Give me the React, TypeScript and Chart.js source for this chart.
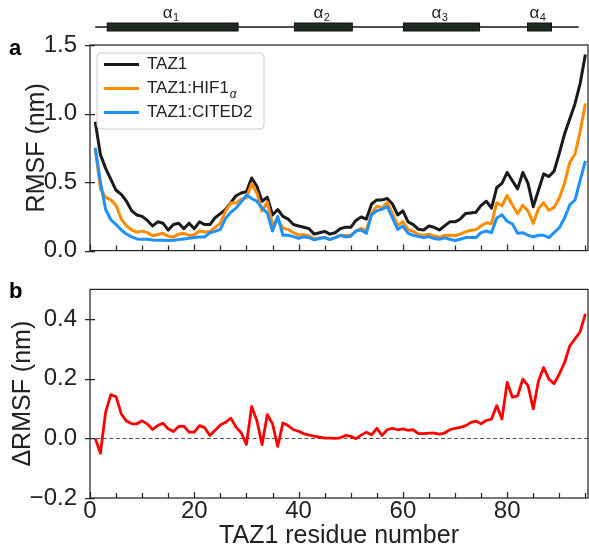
import React, { useEffect, useRef } from 'react';
import { Chart, registerables } from 'chart.js';
Chart.register(...registerables);

const FONT = '"Liberation Sans", Arial, Helvetica, sans-serif';

const residues = [
  1, 2, 3, 4, 5, 6, 7, 8, 9, 10, 11, 12, 13, 14, 15, 16, 17, 18, 19, 20,
  21, 22, 23, 24, 25, 26, 27, 28, 29, 30, 31, 32, 33, 34, 35, 36, 37, 38, 39, 40,
  41, 42, 43, 44, 45, 46, 47, 48, 49, 50, 51, 52, 53, 54, 55, 56, 57, 58, 59, 60,
  61, 62, 63, 64, 65, 66, 67, 68, 69, 70, 71, 72, 73, 74, 75, 76, 77, 78, 79, 80,
  81, 82, 83, 84, 85, 86, 87, 88, 89, 90, 91, 92, 93, 94, 95,
];

const rmsfTAZ1 = [
  0.94, 0.70, 0.60, 0.52, 0.44, 0.41, 0.36, 0.29, 0.26, 0.25,
  0.22, 0.18, 0.21, 0.20, 0.15, 0.19, 0.20, 0.16, 0.20, 0.16,
  0.21, 0.19, 0.19, 0.24, 0.27, 0.30, 0.35, 0.40, 0.42, 0.43,
  0.53, 0.47, 0.36, 0.39, 0.26, 0.30, 0.25, 0.23, 0.19, 0.18,
  0.17, 0.16, 0.12, 0.13, 0.14, 0.12, 0.13, 0.16, 0.17, 0.17,
  0.22, 0.245, 0.23, 0.34, 0.37, 0.37, 0.38, 0.34, 0.26, 0.29,
  0.21, 0.19, 0.155, 0.15, 0.18, 0.17, 0.15, 0.18, 0.21, 0.21,
  0.23, 0.27, 0.275, 0.28, 0.33, 0.36, 0.31, 0.46, 0.49, 0.57,
  0.51, 0.45, 0.57, 0.49, 0.32, 0.44, 0.56, 0.54, 0.58, 0.71,
  0.85, 0.96, 1.07, 1.22, 1.43,
];

const rmsfHIF1a = [
  0.75, 0.45, 0.39, 0.37, 0.33, 0.23, 0.18, 0.15, 0.134, 0.142,
  0.131, 0.108, 0.118, 0.126, 0.105, 0.098, 0.12, 0.126, 0.111, 0.116,
  0.143, 0.136, 0.14, 0.167, 0.20, 0.289, 0.348, 0.348, 0.374, 0.385,
  0.487, 0.42, 0.289, 0.355, 0.192, 0.223, 0.164, 0.155, 0.131, 0.114,
  0.116, 0.106, 0.086, 0.092, 0.096, 0.081, 0.095, 0.112, 0.11, 0.112,
  0.142, 0.161, 0.147, 0.274, 0.324, 0.312, 0.35, 0.272, 0.184, 0.211,
  0.153, 0.141, 0.118, 0.111, 0.12, 0.106, 0.097, 0.111, 0.112, 0.108,
  0.12, 0.137, 0.148, 0.153, 0.18, 0.203, 0.196, 0.348, 0.327, 0.402,
  0.333, 0.269, 0.33, 0.289, 0.199, 0.305, 0.35, 0.294, 0.315, 0.383,
  0.492, 0.643, 0.703, 0.87, 1.073,
];

const rmsfCITED2 = [
  0.75, 0.50, 0.30, 0.225, 0.19, 0.15, 0.12, 0.10, 0.085, 0.083,
  0.083, 0.078, 0.075, 0.075, 0.073, 0.075, 0.08, 0.085, 0.09, 0.095,
  0.10, 0.10, 0.13, 0.14, 0.155, 0.235, 0.28, 0.31, 0.355, 0.405,
  0.38, 0.36, 0.31, 0.275, 0.143, 0.25, 0.112, 0.112, 0.102, 0.09,
  0.10, 0.095, 0.078, 0.088, 0.095, 0.08, 0.095, 0.11, 0.10, 0.105,
  0.143, 0.15, 0.126, 0.262, 0.29, 0.302, 0.321, 0.238, 0.155, 0.179,
  0.126, 0.112, 0.102, 0.095, 0.102, 0.088, 0.083, 0.093, 0.083, 0.074,
  0.083, 0.095, 0.095, 0.095, 0.131, 0.143, 0.131, 0.238, 0.262, 0.214,
  0.195, 0.126, 0.131, 0.112, 0.10, 0.112, 0.112, 0.095, 0.131, 0.167,
  0.238, 0.333, 0.369, 0.512, 0.655,
];

const deltaRMSF = [
  0.0, -0.05, 0.088, 0.147, 0.14, 0.082, 0.058, 0.049, 0.049, 0.059,
  0.048, 0.03, 0.043, 0.051, 0.032, 0.023, 0.04, 0.041, 0.021, 0.021,
  0.043, 0.036, 0.01, 0.027, 0.045, 0.054, 0.068, 0.038, 0.019, -0.02,
  0.107, 0.06, -0.021, 0.08, 0.049, -0.027, 0.052, 0.043, 0.029, 0.024,
  0.016, 0.011, 0.008, 0.004, 0.001, 0.001, 0.0, 0.002, 0.01, 0.007,
  -0.001, 0.011, 0.021, 0.012, 0.034, 0.01, 0.029, 0.034, 0.029, 0.032,
  0.027, 0.029, 0.016, 0.016, 0.018, 0.018, 0.014, 0.018, 0.029, 0.034,
  0.037, 0.042, 0.053, 0.058, 0.049, 0.06, 0.065, 0.11, 0.065, 0.188,
  0.138, 0.143, 0.199, 0.177, 0.099, 0.193, 0.238, 0.199, 0.184, 0.216,
  0.254, 0.31, 0.334, 0.358, 0.418,
];

const seriesLabels = ['TAZ1', 'TAZ1:HIF1', 'TAZ1:CITED2'];
const seriesLabelSubs = ['', 'α', ''];
const seriesColors = ['#1a1a1a', '#ff8c00', '#1e90ff'];

const helixNames = ['1', '2', '3', '4'];
const helixStart = [3.3, 39.2, 60.1, 83.9];
const helixEnd = [28.4, 50.3, 74.7, 88.5];
const backboneRange = [1, 93.7];

const xMin = 0;
const xMax = 95.5;
const xLabelTicks = [0, 20, 40, 60, 80];
const xMarkTicks = [0, 5, 10, 15, 20, 25, 30, 35, 40, 45, 50, 55, 60, 65, 70, 75, 80, 85, 90, 95];
const yTicksA = [0, 0.5, 1.0, 1.5];
const yTicksB = [-0.2, 0, 0.2, 0.4];

const TEXT = '#222222';

function framePlugin(yVals: number[], label: string, labelY: number) {
  return {
    id: 'frame-' + label,
    afterDraw(chart: any) {
      const { ctx, chartArea: a, scales } = chart;
      ctx.save();
      ctx.strokeStyle = '#262626';
      ctx.lineWidth = 1.25;
      ctx.strokeRect(a.left, a.top, a.right - a.left, a.bottom - a.top);
      ctx.beginPath();
      for (const v of yVals) {
        const y = Math.round(scales.y.getPixelForValue(v)) + 0.5;
        ctx.moveTo(a.left - 5, y);
        ctx.lineTo(a.left + 5, y);
      }
      for (const v of xMarkTicks) {
        const x = Math.round(scales.x.getPixelForValue(v)) + 0.5;
        const len = v % 20 === 0 ? 6 : 5;
        ctx.moveTo(x, a.bottom);
        ctx.lineTo(x, a.bottom - len);
      }
      ctx.stroke();
      ctx.fillStyle = '#000';
      ctx.font = 'bold 22px ' + FONT;
      ctx.textAlign = 'left';
      ctx.textBaseline = 'alphabetic';
      ctx.fillText(label, 9, labelY);
      ctx.restore();
    },
  };
}

const helixPlugin = {
  id: 'helix',
  afterDraw(chart: any) {
    const { ctx, scales } = chart;
    const xs = scales.x;
    const yc = 27;
    ctx.save();
    ctx.strokeStyle = '#111';
    ctx.lineWidth = 1.5;
    ctx.beginPath();
    ctx.moveTo(xs.getPixelForValue(backboneRange[0]), yc);
    ctx.lineTo(xs.getPixelForValue(backboneRange[1]), yc);
    ctx.stroke();
    for (let i = 0; i < helixStart.length; i++) {
      const x0 = xs.getPixelForValue(helixStart[i]);
      const x1 = xs.getPixelForValue(helixEnd[i]);
      ctx.fillStyle = '#1f2a22';
      ctx.fillRect(x0, yc - 4, x1 - x0, 8);
      ctx.lineWidth = 1;
      ctx.strokeStyle = '#111';
      ctx.strokeRect(x0, yc - 4, x1 - x0, 8);
      const cx = (x0 + x1) / 2 - 2;
      ctx.font = '17px ' + FONT;
      const wA = ctx.measureText('α').width;
      ctx.font = '11px ' + FONT;
      const wS = ctx.measureText(helixNames[i]).width;
      const start = cx - (wA + wS) / 2;
      ctx.fillStyle = '#222';
      ctx.textAlign = 'left';
      ctx.textBaseline = 'alphabetic';
      ctx.font = '17px ' + FONT;
      ctx.fillText('α', start, 18);
      ctx.font = '11px ' + FONT;
      ctx.fillText(helixNames[i], start + wA + 0.5, 21);
    }
    ctx.restore();
  },
};

const legendPlugin = {
  id: 'customLegend',
  afterDraw(chart: any) {
    const { ctx } = chart;
    ctx.save();
    const bx = 97, by = 53, bw = 167, bh = 76, r = 4;
    ctx.beginPath();
    ctx.moveTo(bx + r, by);
    ctx.lineTo(bx + bw - r, by);
    ctx.arcTo(bx + bw, by, bx + bw, by + r, r);
    ctx.lineTo(bx + bw, by + bh - r);
    ctx.arcTo(bx + bw, by + bh, bx + bw - r, by + bh, r);
    ctx.lineTo(bx + r, by + bh);
    ctx.arcTo(bx, by + bh, bx, by + bh - r, r);
    ctx.lineTo(bx, by + r);
    ctx.arcTo(bx, by, bx + r, by, r);
    ctx.closePath();
    ctx.fillStyle = 'rgba(255,255,255,0.85)';
    ctx.fill();
    ctx.strokeStyle = '#cccccc';
    ctx.lineWidth = 1;
    ctx.stroke();
    for (let i = 0; i < seriesLabels.length; i++) {
      const y = 64.5 + i * 24;
      ctx.strokeStyle = seriesColors[i];
      ctx.lineWidth = 3;
      ctx.beginPath();
      ctx.moveTo(104, y);
      ctx.lineTo(139, y);
      ctx.stroke();
      ctx.fillStyle = TEXT;
      ctx.font = '17px ' + FONT;
      ctx.textAlign = 'left';
      ctx.textBaseline = 'middle';
      ctx.fillText(seriesLabels[i], 147, y);
      if (seriesLabelSubs[i]) {
        const w = ctx.measureText(seriesLabels[i]).width;
        ctx.font = 'italic 12px ' + FONT;
        ctx.fillText(seriesLabelSubs[i], 147 + w + 1, y + 6);
      }
    }
    ctx.restore();
  },
};

const zeroLinePlugin = {
  id: 'zeroLine',
  beforeDatasetsDraw(chart: any) {
    const { ctx, chartArea: a, scales } = chart;
    const y = Math.round(scales.y.getPixelForValue(0)) + 0.5;
    ctx.save();
    ctx.strokeStyle = '#555';
    ctx.lineWidth = 1.2;
    ctx.setLineDash([4, 2.5]);
    ctx.beginPath();
    ctx.moveTo(a.left, y);
    ctx.lineTo(a.right, y);
    ctx.stroke();
    ctx.restore();
  },
};

function pts(vals: number[]) {
  return residues.map((r, i) => ({ x: r, y: vals[i] }));
}

export default function App() {
  const c1 = useRef<HTMLCanvasElement>(null);
  const c2 = useRef<HTMLCanvasElement>(null);

  useEffect(() => {
    const seriesData = [rmsfTAZ1, rmsfHIF1a, rmsfCITED2];
    const chartA = new Chart(c1.current as HTMLCanvasElement, {
      type: 'line',
      data: {
        datasets: seriesData.map((d, i) => ({
          label: seriesLabels[i] + seriesLabelSubs[i],
          data: pts(d),
          borderColor: seriesColors[i],
          backgroundColor: seriesColors[i],
          borderWidth: 3,
          pointRadius: 0,
          tension: 0,
          borderJoinStyle: 'round',
          order: 3 - i,
        })),
      },
      options: {
        responsive: false,
        animation: false,
        layout: { padding: { top: 45, right: 1, left: 0, bottom: 0 } },
        plugins: { legend: { display: false }, tooltip: { enabled: false } },
        scales: {
          x: {
            type: 'linear',
            min: xMin,
            max: xMax,
            ticks: { display: false },
            grid: { display: false },
            border: { display: false },
            afterFit: (s: any) => { s.height = 15; },
          },
          y: {
            type: 'linear',
            min: 0,
            max: 1.5,
            afterBuildTicks: (s: any) => { s.ticks = yTicksA.map((v) => ({ value: v })); },
            ticks: {
              font: { size: 24, family: FONT },
              color: TEXT,
              padding: 5,
              callback: (v: any) => Number(v).toFixed(1),
            },
            grid: { display: false },
            border: { display: false },
            title: {
              display: true,
              text: 'RMSF (nm)',
              font: { size: 25, family: FONT },
              color: TEXT,
              padding: { top: 22, bottom: 0 },
            },
            afterFit: (s: any) => { s.width = 90; },
          },
        },
      } as any,
      plugins: [framePlugin(yTicksA, 'a', 55), helixPlugin, legendPlugin],
    });

    const chartB = new Chart(c2.current as HTMLCanvasElement, {
      type: 'line',
      data: {
        datasets: [
          {
            label: 'ΔRMSF',
            data: pts(deltaRMSF),
            borderColor: '#ff0000',
            backgroundColor: '#ff0000',
            borderWidth: 2.8,
            pointRadius: 0,
            tension: 0,
            borderJoinStyle: 'round',
          },
        ],
      },
      options: {
        responsive: false,
        animation: false,
        layout: { padding: { top: 17, right: 1, left: 0, bottom: 0 } },
        plugins: { legend: { display: false }, tooltip: { enabled: false } },
        scales: {
          x: {
            type: 'linear',
            min: xMin,
            max: xMax,
            afterBuildTicks: (s: any) => { s.ticks = xLabelTicks.map((v) => ({ value: v })); },
            ticks: {
              font: { size: 24, family: FONT },
              color: TEXT,
              padding: -9,
              maxRotation: 0,
              autoSkip: false,
              callback: (v: any) => String(v),
            },
            grid: { display: false },
            border: { display: false },
            title: {
              display: true,
              text: 'TAZ1 residue number',
              font: { size: 25, family: FONT },
              color: TEXT,
              padding: { top: 0, bottom: 5 },
            },
            afterFit: (s: any) => { s.height = 58; },
          },
          y: {
            type: 'linear',
            min: -0.2,
            max: 0.5,
            afterBuildTicks: (s: any) => { s.ticks = yTicksB.map((v) => ({ value: v })); },
            ticks: {
              font: { size: 24, family: FONT },
              color: TEXT,
              padding: 5,
              callback: (v: any) => {
                const n = Number(v);
                return (n < -1e-9 ? '\u2212' : '') + Math.abs(n).toFixed(1);
              },
            },
            grid: { display: false },
            border: { display: false },
            title: {
              display: true,
              text: 'ΔRMSF (nm)',
              font: { size: 25, family: FONT },
              color: TEXT,
              padding: { top: 8, bottom: 0 },
            },
            afterFit: (s: any) => { s.width = 90; },
          },
        },
      } as any,
      plugins: [zeroLinePlugin, framePlugin(yTicksB, 'b', 28)],
    });

    return () => {
      chartA.destroy();
      chartB.destroy();
    };
  }, []);

  return (
    <div style={{ position: 'absolute', left: 0, top: 0, width: 589, height: 546, overflow: 'hidden', background: '#fff' }}>
      <div style={{ position: 'absolute', left: 0, top: 0, width: 589, height: 270 }}>
        <canvas ref={c1} width={589} height={270} style={{ width: 589, height: 270, display: 'block' }} />
      </div>
      <div style={{ position: 'absolute', left: 0, top: 270, width: 589, height: 286 }}>
        <canvas ref={c2} width={589} height={286} style={{ width: 589, height: 286, display: 'block' }} />
      </div>
    </div>
  );
}
